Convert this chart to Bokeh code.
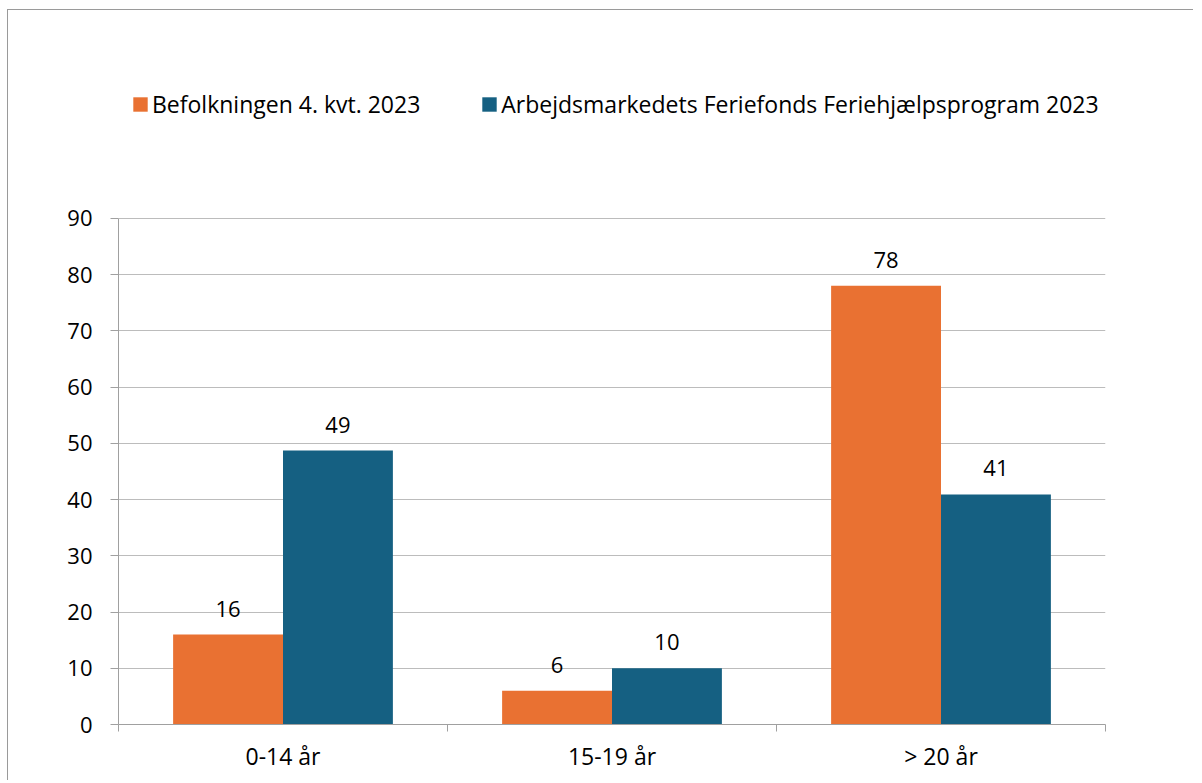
from bokeh.plotting import figure
from bokeh.models import (Range1d, FixedTicker, ColumnDataSource, Legend, LegendItem)
from bokeh.transform import dodge
from bokeh.core.properties import value
from bokeh.embed import file_html
from bokeh.resources import INLINE

categories = ["0-14 år", "15-19 år", "> 20 år"]
series_names = ["Befolkningen 4. kvt. 2023",
                "Arbejdsmarkedets Feriefonds Feriehjælpsprogram 2023"]
befolkning = [16.0, 6.0, 78.0]
feriefond = [48.7, 10.0, 40.9]
y_ticks = [0, 10, 20, 30, 40, 50, 60, 70, 80, 90]
y_max = 90

ORANGE = "#E97132"
BLUE = "#156082"
FONT = "Open Sans"
GRID = "#bcbcbc"
AXIS = "#a0a0a0"

n = len(categories)
centers = [i + 0.5 for i in range(n)]   # category slots on the x scale

src = ColumnDataSource(dict(
    pos=centers,
    cat=categories,
    a=befolkning,
    b=feriefond,
    a_lbl=[f"{v:.0f}" for v in befolkning],
    b_lbl=[f"{v:.0f}" for v in feriefond],
))

# the frame reaches above the value axis so that the legend can sit in it
p = figure(width=1186, height=771, x_range=Range1d(0, n), y_range=Range1d(0, 120),
           output_backend="svg", toolbar_location=None,
           min_border_left=110, min_border_right=89,
           min_border_top=39, min_border_bottom=57,
           styles={"margin-left": "7px", "margin-top": "9px",
                   "border-left": "1px solid #9a9a9a", "border-top": "1px solid #9a9a9a"})
p.outline_line_color = None
p.background_fill_color = "white"
p.border_fill_color = "white"

# bars
r_a = p.vbar(x=dodge("pos", -0.167), top="a", width=0.334,
             source=src, fill_color=ORANGE, line_color=None)
r_b = p.vbar(x=dodge("pos", 0.167), top="b", width=0.334,
             source=src, fill_color=BLUE, line_color=None)

# value labels
for col, off in (("a", -0.167), ("b", 0.167)):
    p.text(x=dodge("pos", off), y=col, text=col + "_lbl", source=src,
           text_align="center", text_baseline="alphabetic", y_offset=-26,
           text_font=value(FONT), text_font_size="22px", text_color="#000000")

# y axis
yax = p.yaxis[0]
yax.ticker = FixedTicker(ticks=y_ticks)
yax.bounds = (0, y_max)
yax.axis_line_color = AXIS
yax.major_tick_line_color = AXIS
yax.major_tick_in = 0
yax.major_tick_out = 8
yax.minor_tick_line_color = None
yax.major_label_standoff = 18
yax.major_label_text_font = FONT
yax.major_label_text_font_size = "22px"
yax.major_label_text_color = "#000000"

p.ygrid.ticker = FixedTicker(ticks=y_ticks)
p.ygrid.grid_line_color = GRID
p.xgrid.grid_line_color = None

# x axis: category labels at centers, tick marks at boundaries
xax = p.xaxis[0]
xax.ticker = FixedTicker(ticks=centers, minor_ticks=list(range(n + 1)))
xax.major_label_overrides = {c: lbl for c, lbl in zip(centers, categories)}
xax.axis_line_color = AXIS
xax.major_tick_line_color = None
xax.major_tick_out = 0
xax.major_tick_in = 0
xax.minor_tick_line_color = AXIS
xax.minor_tick_out = 7
xax.minor_tick_in = 0
xax.major_label_standoff = 8
xax.major_label_text_font = FONT
xax.major_label_text_font_size = "23px"
xax.major_label_text_color = "#000000"

# legend above the value area
legend = Legend(items=[LegendItem(label=series_names[0], renderers=[r_a]),
                       LegendItem(label=series_names[1], renderers=[r_b])],
                orientation="horizontal", location=(13, 604),
                padding=0, margin=0, spacing=60, label_standoff=3,
                glyph_width=18, glyph_height=18,
                label_text_font=FONT, label_text_font_size="23px",
                label_text_color="#000000",
                background_fill_alpha=0, border_line_color=None)
p.add_layout(legend, "center")

open("out.html", "w").write(file_html(p, INLINE))
